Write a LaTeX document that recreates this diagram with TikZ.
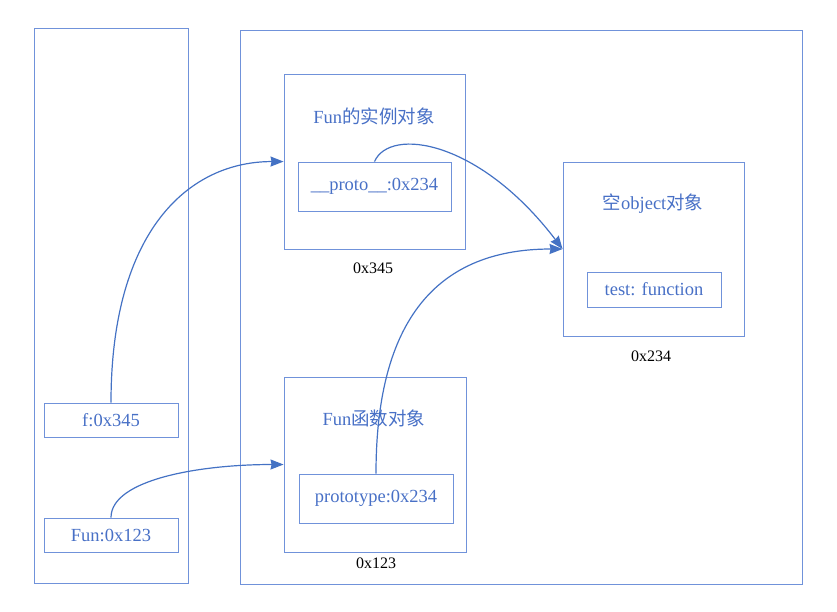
\documentclass[tikz,border=0pt]{standalone}
\usepackage{fontspec}
\setmainfont{Liberation Serif}
\newfontfamily\cjk{Noto Sans CJK SC}
\definecolor{boxblue}{RGB}{112, 146, 218}
\definecolor{textblue}{RGB}{72, 112, 198}
\definecolor{arrowblue}{RGB}{68, 114, 196}
\usetikzlibrary{arrows.meta, positioning}

\begin{document}
\begin{tikzpicture}[x=1pt, y=-1pt,
  frame/.style={draw=boxblue, line width=0.9pt, inner sep=0pt},
  cell/.style={draw=boxblue, line width=0.9pt, text=textblue, font=\fontsize{18.5}{20}\selectfont, inner sep=0pt},
  title/.style={text=textblue, font=\fontsize{18.5}{20}\selectfont},
  addr/.style={font=\fontsize{16}{18}\selectfont},
  link/.style={-{Stealth[length=13pt, width=10pt, inset=1pt]}, draw=arrowblue, line width=1.2pt}
]
  \useasboundingbox (0,0) rectangle (837,611);

  % Stack column
  \node[frame, minimum width=154, minimum height=555] (stack) at (111, 305.5) {};
  \node[cell, minimum width=134, minimum height=34] (f) at (111, 420) {f:0x345};
  \node[cell, minimum width=134, minimum height=34] (fun) at (111, 535) {Fun:0x123};

  % Heap
  \node[frame, minimum width=562, minimum height=554] (heap) at (521, 307) {};

  % Instance object
  \node[frame, minimum width=181, minimum height=175] (inst) at (374.5, 161.5) {};
  \node[title] (instT) at (374, 116) {Fun{\cjk 的实例对象}};
  \node[cell, minimum width=153, minimum height=49] (pr) at (374.5, 186.5) {\_\_proto\_\_:0x234};
  \node[addr] (instA) at (373, 268) {0x345};

  % Empty object
  \node[frame, minimum width=181, minimum height=174] (obj) at (653.5, 249) {};
  \node[title] (objT) at (653, 204) {{\cjk 空}object{\cjk 对象}};
  \node[cell, minimum width=134, minimum height=35] (test) at (654, 289.5) {test: function};
  \node[addr] (objA) at (651, 356) {0x234};

  % Function object
  \node[frame, minimum width=182, minimum height=175] (fn) at (375, 464.5) {};
  \node[title] (fnT) at (374, 418) {Fun{\cjk 函数对象}};
  \node[cell, minimum width=154, minimum height=49] (pt) at (376, 498.5) {prototype:0x234};
  \node[addr] (fnA) at (376, 563) {0x123};

  % References
  \draw[link] (f.north) .. controls +(0,-173) and +(-94,0) .. (inst.west |- pr.north);
  \draw[link] (fun.north) .. controls +(0,-38) and +(-84,0) .. (fn.west);
  \draw[link] (pr.north) .. controls +(15.5,-35) and +(-83,-109) .. (obj.west);
  \draw[link] (pt.north) .. controls +(0,-144) and +(-133,0) .. (obj.west);
\end{tikzpicture}
\end{document}
